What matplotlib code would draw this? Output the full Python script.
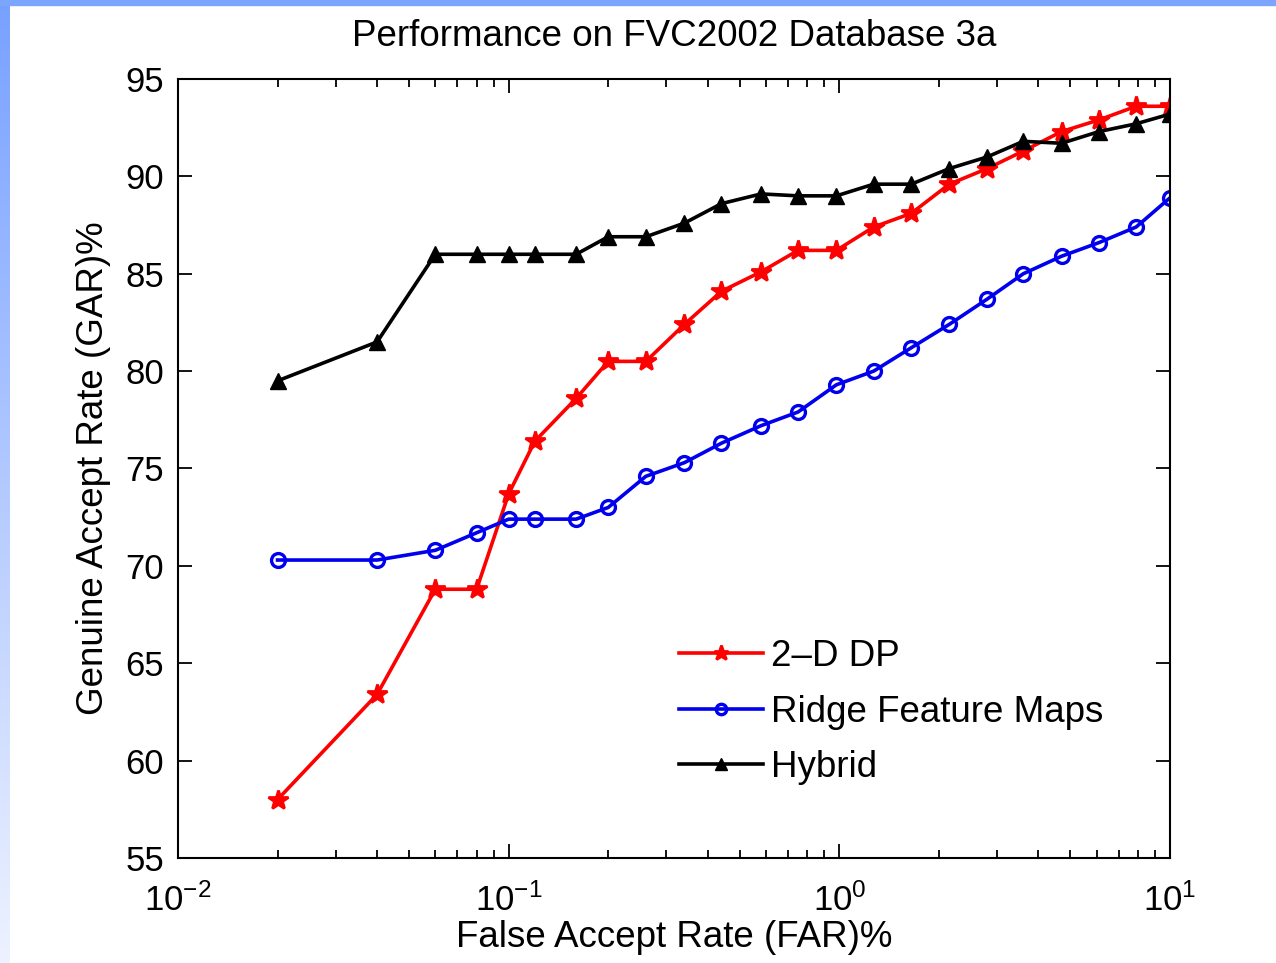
import numpy as np
import matplotlib
matplotlib.use('Agg')
import matplotlib.pyplot as plt
from matplotlib.patches import Rectangle

plt.rcParams['font.family'] = ['Liberation Sans', 'DejaVu Sans']
plt.rcParams['mathtext.fontset'] = 'custom'
plt.rcParams['mathtext.rm'] = 'Liberation Sans'
plt.rcParams['mathtext.it'] = 'Liberation Sans'

# FAR (%) sample points shared by all curves
far = [0.02, 0.04, 0.06, 0.08, 0.1, 0.12, 0.16, 0.2, 0.26, 0.34, 0.44, 0.58,
       0.75, 0.98, 1.27, 1.65, 2.15, 2.8, 3.6, 4.7, 6.1, 7.9, 10]

gar_2ddp = [58.0, 63.4, 68.8, 68.8, 73.7, 76.4, 78.6, 80.5, 80.5, 82.4, 84.1, 85.1,
            86.2, 86.2, 87.4, 88.1, 89.6, 90.4, 91.3, 92.3, 92.9, 93.6, 93.6]
gar_ridge = [70.3, 70.3, 70.8, 71.7, 72.4, 72.4, 72.4, 73.0, 74.6, 75.3, 76.3, 77.2,
             77.9, 79.3, 80.0, 81.2, 82.4, 83.7, 85.0, 85.9, 86.6, 87.4, 88.9]
gar_hybrid = [79.5, 81.5, 86.0, 86.0, 86.0, 86.0, 86.0, 86.9, 86.9, 87.6, 88.6, 89.1,
              89.0, 89.0, 89.6, 89.6, 90.4, 91.0, 91.8, 91.7, 92.3, 92.7, 93.2]

fig = plt.figure(figsize=(12.76, 9.63), dpi=100)

# slide background frame (blue band on top, fading band on left)
bg = fig.add_axes([0, 0, 10 / 1276, 1])
grad = np.linspace(0, 1, 256).reshape(-1, 1)
top_c = np.array([0.47, 0.63, 1.0])
bot_c = np.array([0.93, 0.95, 1.0])
img = top_c + (bot_c - top_c) * grad[:, :, None]
bg.imshow(img, aspect='auto', extent=[0, 1, 0, 1], origin='upper')
bg.set_axis_off()
fig.patches.append(Rectangle((0, 1 - 5 / 963), 1, 5 / 963, transform=fig.transFigure,
                             color='#7BA5FF', zorder=0))

ax = fig.add_axes([178 / 1276, 105 / 963, 992 / 1276, 779 / 963])

ax.plot(far, gar_2ddp, color='red', lw=2.6, marker='*', ms=15, mew=2, label='2\u2013D DP')
ax.plot(far, gar_ridge, color='#0000EE', lw=2.6, marker='o', ms=10, mfc='none', mew=2.4,
        label='Ridge Feature Maps')
ax.plot(far, gar_hybrid, color='black', lw=2.6, marker='^', ms=12, label='Hybrid')

ax.set_xscale('log')
ax.set_xlim(0.01, 10)
ax.set_ylim(55, 95)
ax.set_yticks(range(55, 96, 5))
ax.tick_params(which='both', direction='in', top=True, right=True, labelsize=25, width=1.3)
ax.tick_params(which='major', length=10, pad=10)
ax.tick_params(axis='x', which='major', pad=18)
ax.tick_params(which='minor', length=6)
for s in ax.spines.values():
    s.set_linewidth(1.5)

ax.set_title('Performance on FVC2002 Database 3a', fontsize=26.5, pad=24)
ax.set_xlabel('False Accept Rate (FAR)%', fontsize=26.5, labelpad=2)
ax.set_ylabel('Genuine Accept Rate (GAR)%', fontsize=26.5, labelpad=10)

ax.legend(loc='lower left', bbox_to_anchor=(0.49, 0.075), frameon=False, fontsize=26.5,
          markerscale=0.75, handlelength=2.3, handletextpad=0.2, labelspacing=0.55,
          borderaxespad=0)

fig.savefig('out.png', dpi=100)
